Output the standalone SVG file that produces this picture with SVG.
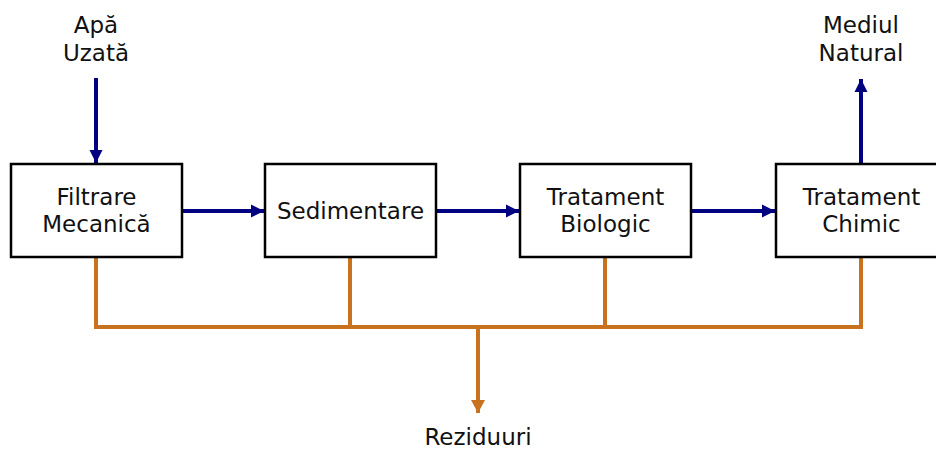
<svg xmlns="http://www.w3.org/2000/svg" width="936" height="451" viewBox="0 0 936 451">
<defs>
<marker id="ab" markerUnits="userSpaceOnUse" markerWidth="14" markerHeight="14" refX="13" refY="7" orient="auto"><path d="M0,0.5 L13,7 L0,13.5 Z" fill="#000080"/></marker>
<marker id="ao" markerUnits="userSpaceOnUse" markerWidth="14" markerHeight="14" refX="13" refY="7" orient="auto"><path d="M0,0 L13,7 L0,14 Z" fill="#C8711F"/></marker>
</defs>
<style>
text{font-family:"DejaVu Sans",Verdana,sans-serif;font-size:23px;fill:#111;text-anchor:middle}
.box{fill:#fff;stroke:#000;stroke-width:2.5}
.b{stroke:#000080;stroke-width:4;fill:none}
.o{stroke:#C8711F;stroke-width:4;fill:none}
</style>
<rect width="936" height="451" fill="#fff"/>
<g id="connectors">
<line class="b" x1="96" y1="78" x2="96" y2="163" marker-end="url(#ab)"/>
<line class="b" x1="182" y1="211" x2="264" y2="211" marker-end="url(#ab)"/>
<line class="b" x1="436" y1="211" x2="519" y2="211" marker-end="url(#ab)"/>
<line class="b" x1="691" y1="211" x2="775" y2="211" marker-end="url(#ab)"/>
<line class="b" x1="861" y1="164" x2="861" y2="79" marker-end="url(#ab)"/>
<path class="o" d="M96,258 V327 H861 V258 M350,258 V327 M605,258 V327"/>
<line class="o" x1="478" y1="327" x2="478" y2="413" marker-end="url(#ao)"/>
</g>
<g id="n1"><rect class="box" x="11" y="164" width="171" height="93"/><text x="96.5" y="205">Filtrare</text><text x="96.5" y="232">Mecanică</text></g>
<g id="n2"><rect class="box" x="265" y="164" width="171" height="93"/><text x="350.5" y="219">Sedimentare</text></g>
<g id="n3"><rect class="box" x="520" y="164" width="171" height="93"/><text x="605.5" y="205">Tratament</text><text x="605.5" y="232">Biologic</text></g>
<g id="n4"><rect class="box" x="776" y="164" width="171" height="93"/><text x="861.5" y="205">Tratament</text><text x="861.5" y="232">Chimic</text></g>
<g id="in"><text x="96" y="33">Apă</text><text x="96" y="61">Uzată</text></g>
<g id="out"><text x="861" y="33">Mediul</text><text x="861" y="61">Natural</text></g>
<g id="waste"><text x="478" y="445">Reziduuri</text></g>
</svg>
